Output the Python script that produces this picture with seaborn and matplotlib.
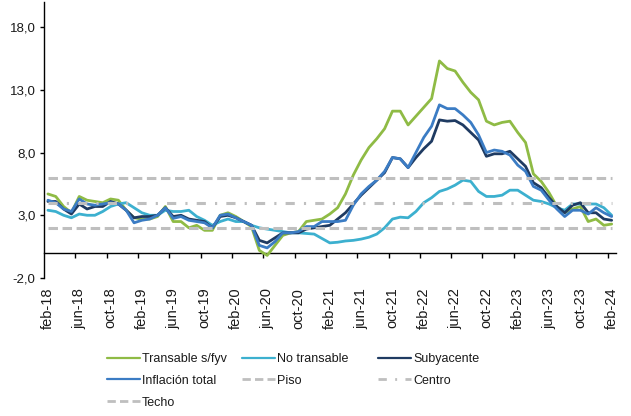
import numpy as np
import pandas as pd
import matplotlib
matplotlib.use("Agg")
import matplotlib.pyplot as plt
import seaborn as sns
from matplotlib.lines import Line2D
from matplotlib.ticker import FuncFormatter

# ---------------- data (monthly, feb-18 .. feb-24) ----------------
tick_labels = ["feb-18", "jun-18", "oct-18", "feb-19", "jun-19", "oct-19", "feb-20",
               "jun-20", "oct-20", "feb-21", "jun-21", "oct-21", "feb-22", "jun-22",
               "oct-22", "feb-23", "jun-23", "oct-23", "feb-24"]

transable = [4.7, 4.5, 3.7, 3.2, 4.5, 4.2, 4.1, 4.0, 4.3, 4.2, 3.4, 2.8, 2.7, 2.7, 2.9, 3.7,
             2.5, 2.5, 2.0, 2.2, 1.8, 1.8, 3.0, 3.2, 2.9, 2.5, 2.1, 0.2, -0.2, 0.6, 1.4, 1.6,
             1.7, 2.5, 2.6, 2.7, 3.1, 3.6, 4.7, 6.2, 7.4, 8.4, 9.1, 9.9, 11.3, 11.3, 10.2, 10.9,
             11.6, 12.3, 15.3, 14.7, 14.5, 13.6, 12.8, 12.2, 10.5, 10.2, 10.4, 10.5, 9.6, 8.8,
             6.3, 5.7, 4.8, 3.7, 3.2, 3.5, 3.7, 2.5, 2.7, 2.2, 2.3]

no_transable = [3.4, 3.3, 3.0, 2.8, 3.1, 3.0, 3.0, 3.3, 3.7, 3.9, 4.0, 3.6, 3.2, 3.0, 3.0, 3.4,
                3.3, 3.3, 3.4, 2.9, 2.6, 2.2, 2.5, 2.7, 2.5, 2.5, 2.2, 2.0, 1.9, 1.8, 1.7, 1.6,
                1.6, 1.55, 1.5, 1.15, 0.8, 0.85, 0.95, 1.0, 1.1, 1.25, 1.5, 2.0, 2.7, 2.85, 2.8, 3.3,
                4.0, 4.4, 4.9, 5.1, 5.4, 5.8, 5.7, 4.9, 4.5, 4.5, 4.6, 5.0, 5.0, 4.6,
                4.2, 4.1, 3.9, 3.6, 3.4, 3.9, 3.9, 3.9, 3.9, 3.6, 3.0]

subyacente = [4.1, 4.1, 3.5, 3.1, 3.9, 3.5, 3.7, 3.7, 4.1, 3.9, 3.4, 2.8, 2.9, 2.9, 3.0, 3.6,
              2.9, 3.0, 2.7, 2.6, 2.5, 2.0, 2.9, 3.0, 2.8, 2.5, 2.2, 1.0, 0.8, 1.2, 1.6, 1.6,
              1.6, 1.9, 2.0, 2.1, 2.2, 2.7, 3.2, 3.9, 4.6, 5.2, 5.8, 6.4, 7.6, 7.5, 6.8, 7.6,
              8.3, 8.9, 10.6, 10.5, 10.55, 10.2, 9.6, 9.0, 7.7, 7.9, 7.9, 8.1, 7.5, 6.9,
              5.6, 5.2, 4.4, 3.7, 3.2, 3.8, 4.0, 3.2, 3.2, 2.7, 2.6]

inflacion_total = [4.2, 4.0, 3.5, 3.3, 4.3, 3.9, 3.8, 3.9, 4.0, 3.9, 3.4, 2.4, 2.6, 2.7, 3.0, 3.6,
                   2.75, 2.9, 2.6, 2.5, 2.4, 2.0, 3.0, 3.1, 2.8, 2.5, 2.2, 0.6, 0.4, 0.9, 1.6, 1.6,
                   1.7, 2.1, 2.1, 2.5, 2.5, 2.5, 2.6, 3.8, 4.7, 5.3, 5.8, 6.5, 7.6, 7.5, 6.8, 8.0,
                   9.2, 10.1, 11.8, 11.5, 11.5, 11.0, 10.4, 9.4, 8.0, 8.2, 8.1, 7.8, 7.0, 6.5,
                   5.3, 5.0, 4.2, 3.5, 2.9, 3.4, 3.4, 3.1, 3.6, 3.2, 2.9]

piso = 2.0
centro = 4.0
techo = 6.0

# ---------------- styling ----------------
sns.set_theme(style="white")
plt.rcParams['font.family'] = ['Liberation Sans', 'DejaVu Sans']

c_trans = "#8FBB45"
c_notr = "#3CB0CF"
c_suby = "#1F3B62"
c_total = "#3B7CC4"
c_gray = "#BFBFBF"

n = len(inflacion_total)
mes = np.arange(n)
df = pd.DataFrame({
    "mes": mes,
    "Transable s/fyv": transable,
    "No transable": no_transable,
    "Subyacente": subyacente,
    "Inflación total": inflacion_total,
    "Piso": np.full(n, piso),
    "Centro": np.full(n, centro),
    "Techo": np.full(n, techo),
})

W, H = 631, 416
fig = plt.figure(figsize=(W / 100, H / 100), dpi=100)
fig.patch.set_facecolor("white")
ax = fig.add_axes([44 / W, 1 - 278 / H, (615.6 - 44) / W, (278 - 2) / H])

data_series = [("Transable s/fyv", c_trans), ("No transable", c_notr),
               ("Subyacente", c_suby), ("Inflación total", c_total)]
for i, (name, col) in enumerate(data_series):
    sns.lineplot(data=df, x="mes", y=name, color=col, linewidth=2.0, ax=ax,
                 legend=False, zorder=3 + i)

dash_pt = (0, (3.1, 1.5))
dashdot_pt = (0, (3.0, 3.0, 0.7, 3.0))
for name, ls in [("Piso", dash_pt), ("Centro", dashdot_pt), ("Techo", dash_pt)]:
    sns.lineplot(data=df, x="mes", y=name, color=c_gray, linewidth=2.2, ax=ax,
                 legend=False, zorder=8)
    ax.lines[-1].set_linestyle(ls)

ax.set_xlim(-0.5, n - 0.5)
ax.set_ylim(-2, 20)
ax.set_xlabel("")
ax.set_ylabel("")

# spines
for s in ["top", "right"]:
    ax.spines[s].set_visible(False)
ax.spines["left"].set_color("black")
ax.spines["left"].set_linewidth(1.0)
ax.spines["bottom"].set_color("black")
ax.spines["bottom"].set_linewidth(1.0)
ax.spines["bottom"].set_position(("data", 0))

# x ticks
ax.set_xticks(np.arange(0, n, 4))
ax.set_xticklabels(tick_labels)
ax.set_xticks(np.arange(3.5, n - 1, 4), minor=True)
ax.tick_params(axis="x", which="major", bottom=True, length=0, pad=25,
               labelrotation=90, labelsize=10.5, labelcolor="#1a1a1a")
ax.tick_params(axis="x", which="minor", bottom=True, length=3.6, width=1.0,
               direction="out", color="black")

# y ticks
ax.set_yticks([-2, 3, 8, 13, 18])
ax.yaxis.set_major_formatter(FuncFormatter(lambda v, p: f"{v:.1f}".replace(".", ",")))
ax.tick_params(axis="y", which="major", left=True, length=3, width=1.0,
               direction="out", color="black", pad=3, labelsize=9.5,
               labelcolor="#1a1a1a")

# legends: three columns placed like the reference
def h(col, ls="-", lw=1.6):
    return Line2D([0], [0], color=col, linestyle=ls, linewidth=lw)

leg_kw = dict(frameon=False, loc="upper left", fontsize=9, borderpad=0,
              borderaxespad=0, handlelength=2.65, handletextpad=0.15,
              labelspacing=0.78)
cols = [
    (107, [h(c_trans), h(c_total), h(c_gray, (0, (3.0, 1.5)), 2.0)],
     ["Transable s/fyv", "Inflación total", "Techo"]),
    (242, [h(c_notr), h(c_gray, (0, (3.0, 1.5)), 2.0)],
     ["No transable", "Piso"]),
    (378, [h(c_suby), h(c_gray, (0, (3.0, 3.0, 0.7, 3.0)), 2.0)],
     ["Subyacente", "Centro"]),
]
for x0, hs, ls in cols:
    lg = fig.legend(hs, ls, bbox_to_anchor=(x0 / W, 1 - 353 / H), **leg_kw)
    for t in lg.get_texts():
        t.set_color("#1a1a1a")

fig.savefig("out.png", dpi=100, facecolor="white")
